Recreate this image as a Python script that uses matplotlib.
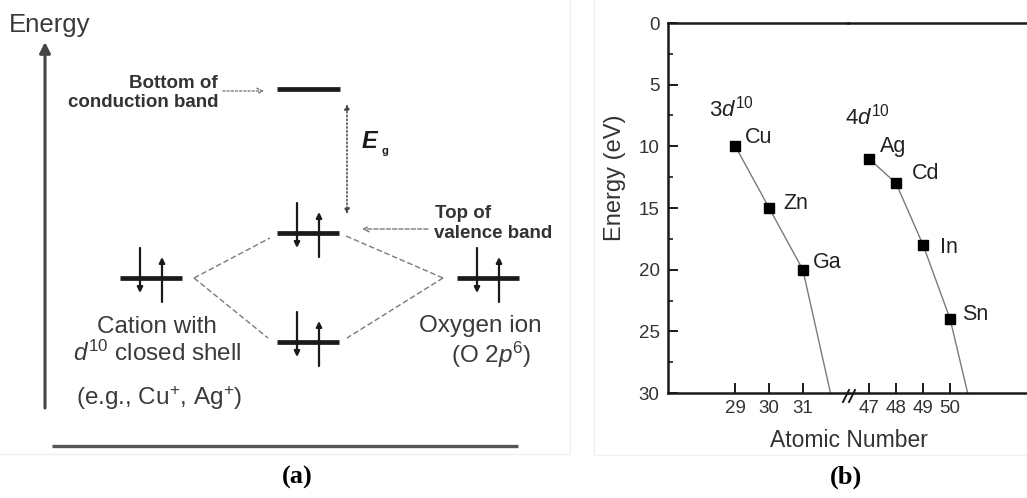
import matplotlib.pyplot as plt

plt.rcParams['font.family'] = ['Liberation Sans', 'DejaVu Sans']
plt.rcParams['mathtext.fontset'] = 'custom'
plt.rcParams['mathtext.rm'] = 'Liberation Sans'
plt.rcParams['mathtext.it'] = 'Liberation Sans:italic'
plt.rcParams['mathtext.bf'] = 'Liberation Sans:bold'

# Panel (b) data: d-level energy vs atomic number
z_3d = [29, 30, 31]
e_3d = [10, 15, 20]
names_3d = ['Cu', 'Zn', 'Ga']
z_4d = [47, 48, 49, 50]
e_4d = [11, 13, 18, 24]
names_4d = ['Ag', 'Cd', 'In', 'Sn']
# where each trend line meets the bottom axis
tail_3d = (31.82, 30)
tail_4d = (50.65, 30)
x_ticks_left = [29, 30, 31]
x_ticks_right = [47, 48, 49, 50]
y_ticks = [0, 5, 10, 15, 20, 25, 30]

# Panel (a) schematic: energy levels (center x, y in pixels)
level_x = [151, 308, 308, 488]
level_y = [278, 233, 342, 278]

dark = '#1a1a1a'
grey = '#7a7a7a'
txt = '#3a3a3a'

fig = plt.figure(figsize=(10.27, 4.98), dpi=100)

# full-figure pixel axes for the schematic and free text
ax0 = fig.add_axes([0, 0, 1, 1])
ax0.set_xlim(0, 1027)
ax0.set_ylim(498, 0)
ax0.axis('off')

# faint panel frames
ax0.plot([0, 570, 570], [454, 454, 0], color='#f0f0f0', lw=1)
ax0.plot([594, 594, 1027], [0, 455, 455], color='#f0f0f0', lw=1)

# ---------- panel (a) ----------
ax0.text(9, 25, 'Energy', fontsize=18.5, color=txt, ha='left', va='center')
ax0.annotate('', xy=(45, 42), xytext=(45, 408),
             arrowprops=dict(arrowstyle='-|>', color='#444444', lw=2.2,
                             mutation_scale=16, shrinkA=0, shrinkB=0))
ax0.plot([52, 518], [446, 446], color='#555555', lw=2.4, solid_capstyle='butt')

def spin(ax, x, y_from, y_to):
    ax.annotate('', xy=(x, y_to), xytext=(x, y_from),
                arrowprops=dict(arrowstyle='-|>', color=dark, lw=1.6,
                                mutation_scale=8, shrinkA=0, shrinkB=0))

for xc, y0 in zip(level_x, level_y):
    ax0.plot([xc - 31, xc + 31], [y0, y0], color=dark, lw=3.4, solid_capstyle='butt')
    spin(ax0, xc - 11, y0 - 30, y0 + 15)
    spin(ax0, xc + 11, y0 + 24, y0 - 21)

# conduction band bottom
ax0.plot([277, 340], [89, 89], color=dark, lw=3.4, solid_capstyle='butt')

# dashed correlation lines
dash = dict(color=grey, lw=1, linestyle=(0, (4, 2)))
ax0.plot([194, 270], [278, 238], **dash)
ax0.plot([194, 268], [278, 338], **dash)
ax0.plot([443, 346], [278, 236], **dash)
ax0.plot([443, 347], [278, 338], **dash)

# band gap arrow
ax0.annotate('', xy=(347, 104), xytext=(347, 214),
             arrowprops=dict(arrowstyle='<|-|>', color='#444444', lw=1.1,
                             linestyle=(0, (1, 1.5)), mutation_scale=8,
                             shrinkA=0, shrinkB=0))
ax0.text(362, 141, 'E', fontsize=17, fontweight='bold', fontstyle='italic',
         color=dark, ha='left', va='center')
ax0.text(381, 151, 'g', fontsize=8, fontweight='bold', color=dark,
         ha='left', va='center')

# band labels
ax0.text(218, 83, 'Bottom of', fontsize=13.5, fontweight='bold', color='#333333',
         ha='right', va='center')
ax0.text(218, 102, 'conduction band', fontsize=13.5, fontweight='bold',
         color='#333333', ha='right', va='center')
ax0.annotate('', xy=(264, 91), xytext=(223, 91),
             arrowprops=dict(arrowstyle='->', color=grey, lw=1,
                             linestyle=(0, (1.5, 1.5)), shrinkA=0, shrinkB=0))
ax0.text(435, 213, 'Top of', fontsize=13.5, fontweight='bold', color='#333333',
         ha='left', va='center')
ax0.text(434, 233, 'valence band', fontsize=13.5, fontweight='bold',
         color='#333333', ha='left', va='center')
ax0.annotate('', xy=(362, 229), xytext=(428, 229),
             arrowprops=dict(arrowstyle='->', color=grey, lw=1,
                             linestyle=(0, (3, 1.5)), shrinkA=0, shrinkB=0))

ax0.text(157, 327, 'Cation with', fontsize=17.5, color=txt, ha='center', va='center')
ax0.text(157, 353, r'$d^{10}$ closed shell', fontsize=17.5, color=txt,
         ha='center', va='center')
ax0.text(159, 398, r'(e.g., Cu$^{+}$, Ag$^{+}$)', fontsize=17.5, color=txt,
         ha='center', va='center')
ax0.text(480, 326, 'Oxygen ion', fontsize=17.5, color=txt, ha='center', va='center')
ax0.text(491, 355, r'(O 2$p^{6}$)', fontsize=17.5, color=txt, ha='center', va='center')

# panel captions
ax0.text(297, 477, '(a)', fontsize=19, fontweight='bold', family='Liberation Serif',
         ha='center', va='center')
ax0.text(846, 477, '(b)', fontsize=19, fontweight='bold', family='Liberation Serif',
         ha='center', va='center')

# ---------- panel (b): broken x-axis with two axes ----------
bot = 1 - 393 / 498
hgt = (393 - 23) / 498
ax1 = fig.add_axes([668 / 1027, bot, 180 / 1027, hgt])
ax2 = fig.add_axes([848 / 1027, bot, 178 / 1027, hgt], sharey=ax1)
for ax in (ax1, ax2):
    ax.set_facecolor('none')
    ax.tick_params(direction='in', width=1.4, length=7, labelsize=13.5,
                   colors=dark, labelcolor='#333333')
    for s in ax.spines.values():
        s.set_linewidth(1.8)
        s.set_color(dark)
    ax.spines['right'].set_visible(False)
ax1.set_xlim(27, 32.34)
ax2.set_xlim(46.22, 52.81)
ax1.set_ylim(30, 0)
ax2.spines['left'].set_visible(False)
ax2.tick_params(axis='y', left=False, labelleft=False, which='both')
ax1.set_yticks(y_ticks)
ax1.set_yticks([2.5, 7.5, 12.5, 17.5, 22.5, 27.5], minor=True)
ax1.tick_params(axis='y', which='minor', direction='in', length=3.5, width=1.2,
                colors=dark)
ax1.tick_params(axis='y', pad=6)
ax1.set_xticks(x_ticks_left)
ax2.set_xticks(x_ticks_right)
ax1.tick_params(axis='x', pad=5)
ax2.tick_params(axis='x', pad=5)

ax1.plot(z_3d + [tail_3d[0]], e_3d + [tail_3d[1]], color=grey, lw=1, clip_on=False)
ax2.plot(z_4d + [tail_4d[0]], e_4d + [tail_4d[1]], color=grey, lw=1, clip_on=False)
ax1.plot(z_3d, e_3d, 's', color='black', ms=6.5, clip_on=False, zorder=3)
ax2.plot(z_4d, e_4d, 's', color='black', ms=6.5, clip_on=False, zorder=3)

label_off_3d = [(7, 6.5), (10, 3), (7, 5)]
label_off_4d = [(8, 8.5), (11.5, 7), (12, -1.5), (8.5, 3)]
for z, e, n, off in zip(z_3d, e_3d, names_3d, label_off_3d):
    ax1.annotate(n, (z, e), xytext=off, textcoords='offset points',
                 fontsize=15.5, color='#222222', ha='left', va='center')
for z, e, n, off in zip(z_4d, e_4d, names_4d, label_off_4d):
    ax2.annotate(n, (z, e), xytext=off, textcoords='offset points',
                 fontsize=15.5, color='#222222', ha='left', va='center')

ax1.text(28.21, 7.6, r'3$\it{d}^{10}$', fontsize=16, color='#222222',
         ha='left', va='baseline')
ax2.text(46.11, 8.27, r'4$\it{d}^{10}$', fontsize=16, color='#222222',
         ha='left', va='baseline', clip_on=False)

# break marks on the x-axis
ax0.plot([843, 849], [402, 390], color=dark, lw=1.4)
ax0.plot([849, 855], [402, 390], color=dark, lw=1.4)

ax0.text(849, 440, 'Atomic Number', fontsize=16.5, color='#333333',
         ha='center', va='center')
ax0.text(615, 178, 'Energy (eV)', fontsize=17, color='#333333', rotation=90,
         ha='center', va='center')

fig.savefig('out.png', dpi=100)
